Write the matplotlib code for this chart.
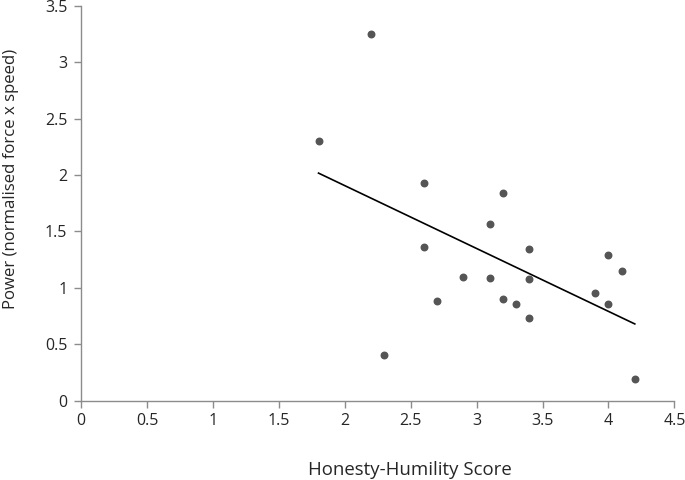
import numpy as np
import matplotlib
matplotlib.use("Agg")
import matplotlib.pyplot as plt

plt.rcParams['font.family'] = ['Open Sans', 'DejaVu Sans']

# Honesty-Humility score vs power
hh_score = [1.8, 2.2, 2.3, 2.6, 2.6, 2.7, 2.9, 3.1, 3.1, 3.2,
            3.2, 3.3, 3.4, 3.4, 3.4, 3.9, 4.0, 4.0, 4.1, 4.2]
power = [2.30, 3.25, 0.40, 1.93, 1.36, 0.88, 1.10, 1.57, 1.09, 1.84,
         0.90, 0.86, 1.34, 1.08, 0.73, 0.95, 1.29, 0.86, 1.15, 0.19]

x = np.array(hh_score)
y = np.array(power)
slope, intercept = np.polyfit(x, y, 1)
xfit = np.array([x.min(), x.max()])

fig = plt.figure(figsize=(6.85, 4.8), dpi=100)
ax = fig.add_axes([0.1187, 0.1656, 0.8657, 0.822])

ax.scatter(x, y, s=22, color='#555555', zorder=3)
ax.plot(xfit, slope * xfit + intercept, color='black', lw=1.2)

ax.set_xlim(0, 4.5)
ax.set_ylim(0, 3.5)
ax.set_xticks(np.arange(0, 4.51, 0.5))
ax.set_yticks(np.arange(0, 3.51, 0.5))
ax.set_xticklabels(['0', '0.5', '1', '1.5', '2', '2.5', '3', '3.5', '4', '4.5'])
ax.set_yticklabels(['0', '0.5', '1', '1.5', '2', '2.5', '3', '3.5'])

for s in ['top', 'right']:
    ax.spines[s].set_visible(False)
for s in ['left', 'bottom']:
    ax.spines[s].set_color('#8c8c8c')
    ax.spines[s].set_linewidth(1.0)
ax.tick_params(colors='#8c8c8c', length=5, width=1, labelcolor='#262626',
               labelsize=11.5)
ax.tick_params(axis='x', pad=4)
ax.tick_params(axis='y', pad=5)

ax.set_xlabel('Honesty-Humility Score', fontsize=13.4, color='#262626')
ax.xaxis.set_label_coords(0.554, -0.189)
ax.xaxis.label.set_verticalalignment('baseline')
ax.set_ylabel('Power (normalised force x speed)', fontsize=12.1, color='#262626')
ax.yaxis.set_label_coords(-0.111, 0.561)
ax.yaxis.label.set_verticalalignment('baseline')

fig.savefig('out.png', dpi=100)
